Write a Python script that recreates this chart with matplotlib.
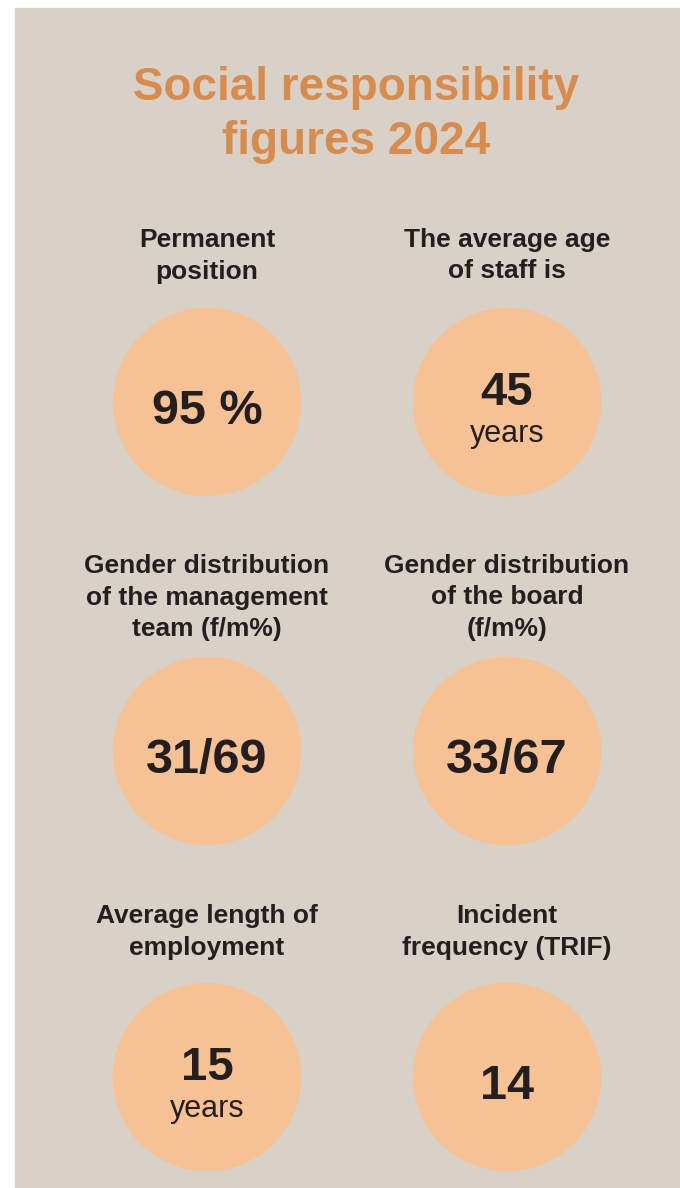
import matplotlib.pyplot as plt
from matplotlib.patches import Circle, Rectangle

title_lines = ['Social responsibility', 'figures 2024']

headings = [
    ['Permanent', 'position'],
    ['The average age', 'of staff is'],
    ['Gender distribution', 'of the management', 'team (f/m%)'],
    ['Gender distribution', 'of the board', '(f/m%)'],
    ['Average length of', 'employment'],
    ['Incident', 'frequency (TRIF)'],
]
values = ['95 %', '45', '31/69', '33/67', '15', '14']
units = ['', 'years', '', '', 'years', '']

BG = '#d7d1c7'
CIRCLE = '#f6c294'
ORANGE = '#d98b4c'
DARK = '#231f20'
FONT = 'Liberation Sans'


def main():
    fig = plt.figure(figsize=(6.8, 11.88), dpi=100)
    fig.patch.set_facecolor('white')
    ax = fig.add_axes([0, 0, 1, 1])
    ax.set_xlim(0, 680)
    ax.set_ylim(1188, 0)
    ax.axis('off')

    ax.add_patch(Rectangle((15, 8), 665, 1180, color=BG, zorder=0))

    # title
    for i, line in enumerate(title_lines):
        ax.text(356, 100 + i * 54, line, ha='center', va='baseline',
                fontsize=33, fontweight='bold', color=ORANGE, family=FONT)

    col_x = [207, 507]
    head_y = [247, 573, 923]
    circ_y = [402, 751, 1077]
    radius = 93.5

    for k in range(len(values)):
        row, col = divmod(k, 2)
        cx = col_x[col]
        for j, line in enumerate(headings[k]):
            ax.text(cx, head_y[row] + j * 31.5, line, ha='center', va='baseline',
                    fontsize=19, fontweight='bold', color=DARK, family=FONT)

        cy = circ_y[row]
        ax.add_patch(Circle((cx, cy), radius, color=CIRCLE, zorder=1))
        if units[k]:
            ax.text(cx, cy + 3, values[k], ha='center', va='baseline',
                    fontsize=34, fontweight='bold', color=DARK, family=FONT, zorder=2)
            ax.text(cx, cy + 40, units[k], ha='center', va='baseline',
                    fontsize=22, color=DARK, family=FONT, zorder=2)
        else:
            ax.text(cx, cy + 22, values[k], ha='center', va='baseline',
                    fontsize=35, fontweight='bold', color=DARK, family=FONT, zorder=2)

    fig.savefig('out.png', dpi=100, facecolor='white')


if __name__ == '__main__':
    main()
